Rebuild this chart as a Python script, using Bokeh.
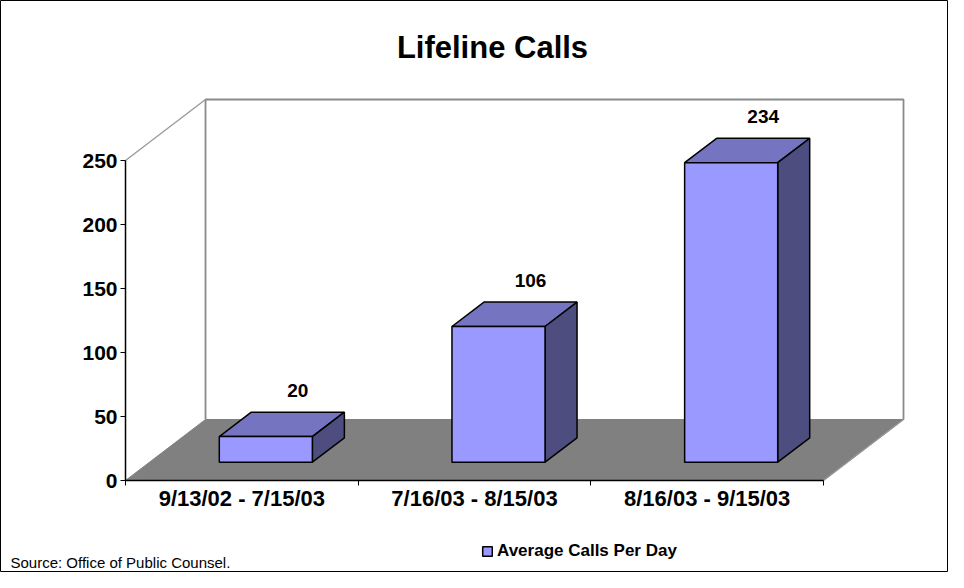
from bokeh.plotting import figure
from bokeh.models import Range1d, FixedTicker, Label, Legend, LegendItem, ColumnDataSource
from bokeh.embed import file_html
from bokeh.resources import INLINE
from bokeh.core.properties import value

# ---------------- data ----------------
categories = ["9/13/02 - 7/15/03", "7/16/03 - 8/15/03", "8/16/03 - 9/15/03"]
calls_per_day = [20, 106, 234]
y_ticks = [0, 50, 100, 150, 200, 250]
series_name = "Average Calls Per Day"
title_text = "Lifeline Calls"
source_text = "Source:  Office of Public Counsel."

# ---------------- layout (pixels inside the figure) ----------------
W, H = 948, 572
ORIGIN_PX = (125, 480)                   # where category 0 / value 0 meet
AXIS_TOP_PX = 160                        # y pixel of the top of the value axis
CAT_END_PX = 823                         # x pixel of the end of the category axis
DEPTH_PX = (80, 61)                      # 3-D depth offset (right, up)
FONT = "Liberation Sans"

n = len(categories)
y_axis_max = y_ticks[-1]
PXY = (ORIGIN_PX[1] - AXIS_TOP_PX) / y_axis_max    # px per value unit
PXX = (CAT_END_PX - ORIGIN_PX[0]) / n               # px per category
DX = DEPTH_PX[0] / PXX
DY = DEPTH_PX[1] / PXY


def px_x(px):
    return (px - ORIGIN_PX[0]) / PXX


def px_y(py):
    return (ORIGIN_PX[1] - py) / PXY


FRONT = "#9999FF"
TOP = "#7474C0"
SIDE = "#4D4D80"

p = figure(width=W, height=H, title=None,
           x_range=Range1d(px_x(0), px_x(W)), y_range=Range1d(px_y(H), px_y(0)),
           output_backend="svg", toolbar_location=None,
           min_border_left=0, min_border_right=0, min_border_top=0, min_border_bottom=0)
p.outline_line_color = "black"
p.outline_line_width = 1
p.xgrid.visible = False
p.ygrid.visible = False
p.background_fill_color = "white"
p.border_fill_color = "white"

# floor
p.patch([0, n, n + DX, DX], [0, 0, DY, DY], fill_color="#808080", line_color="#808080", line_width=1)
p.line([n, n + DX], [0, DY], line_color="#9a9a9a", line_width=1.2)

# walls
p.line([DX, DX, n + DX, n + DX], [DY, y_axis_max + DY, y_axis_max + DY, DY],
       line_color="#8a8a8a", line_width=1.8)
p.line([0, DX], [y_axis_max, y_axis_max + DY], line_color="#9a9a9a", line_width=1.4)

# bars
f0, f1 = 0.3, 0.7
bw = 0.4
fx, fy, tx, ty, sx, sy = [], [], [], [], [], []
lx, ly, lt = [], [], []
for i, v in enumerate(calls_per_day):
    x0 = i + (1 - bw) / 2 + f0 * DX
    x1 = x0 + bw
    y0 = f0 * DY
    y1 = y0 + v
    ddx = (f1 - f0) * DX
    ddy = (f1 - f0) * DY
    fx.append([x0, x1, x1, x0]); fy.append([y0, y0, y1, y1])
    tx.append([x0, x1, x1 + ddx, x0 + ddx]); ty.append([y1, y1, y1 + ddy, y1 + ddy])
    sx.append([x1, x1 + ddx, x1 + ddx, x1]); sy.append([y0, y0 + ddy, y1 + ddy, y1])
    lx.append(i + 0.5 + f1 * DX)
    ly.append(y1 + ddy + 22 / PXY)
    lt.append(str(v))

p.patches(tx, ty, fill_color=TOP, line_color="black", line_width=1.5)
p.patches(sx, sy, fill_color=SIDE, line_color="black", line_width=1.5)
front = p.patches(fx, fy, fill_color=FRONT, line_color="black", line_width=1.5)

p.text(x="x", y="y", text="t", source=ColumnDataSource(dict(x=lx, y=ly, t=lt)),
       text_align="center", text_baseline="middle", text_font=value(FONT),
       text_font_size="19px", text_font_style="bold", text_color="black")

# axes (placed at the data origin, inside the frame)
xa = p.xaxis[0]
xa.fixed_location = 0
xa.ticker = FixedTicker(ticks=[i + 0.5 for i in range(n)], minor_ticks=list(range(n + 1)))
xa.major_label_overrides = {i + 0.5: c for i, c in enumerate(categories)}
xa.bounds = (0, n)
xa.major_tick_line_color = None
xa.major_tick_out = 5
xa.major_tick_in = 0
xa.minor_tick_out = 5
xa.minor_tick_in = 0
xa.minor_tick_line_color = "black"
xa.axis_line_color = "black"
xa.axis_line_width = 1.5
xa.major_label_standoff = 0
xa.major_label_text_font = FONT
xa.major_label_text_font_style = "bold"
xa.major_label_text_font_size = "22px"
xa.major_label_text_color = "black"

ya = p.yaxis[0]
ya.fixed_location = 0
ya.ticker = FixedTicker(ticks=y_ticks, minor_ticks=[])
ya.bounds = (0, y_axis_max)
ya.major_tick_out = 5
ya.major_tick_in = 0
ya.minor_tick_line_color = None
ya.axis_line_color = "black"
ya.axis_line_width = 1.5
ya.major_label_standoff = 3
ya.major_label_text_font = FONT
ya.major_label_text_font_style = "bold"
ya.major_label_text_font_size = "21px"
ya.major_label_text_color = "black"

# title
p.add_layout(Label(x=px_x(492), y=px_y(47), text=title_text, text_align="center",
                   text_baseline="middle", text_font=FONT, text_font_size="31px",
                   text_font_style="bold", text_color="black"))
# source note
p.add_layout(Label(x=px_x(10), y=px_y(562), text=source_text, text_align="left",
                   text_baseline="middle", text_font=FONT, text_font_size="15px",
                   text_color="black"))

# legend
legend = Legend(items=[LegendItem(label=series_name, renderers=[front])],
                location=(481, H - 551 - 10), orientation="horizontal",
                border_line_color=None, background_fill_alpha=0, padding=0, margin=0,
                glyph_width=12, glyph_height=12, label_standoff=4,
                label_text_font=FONT, label_text_font_style="bold",
                label_text_font_size="17px", label_text_color="black")
p.add_layout(legend)

open("out.html", "w").write(file_html(p, INLINE))
